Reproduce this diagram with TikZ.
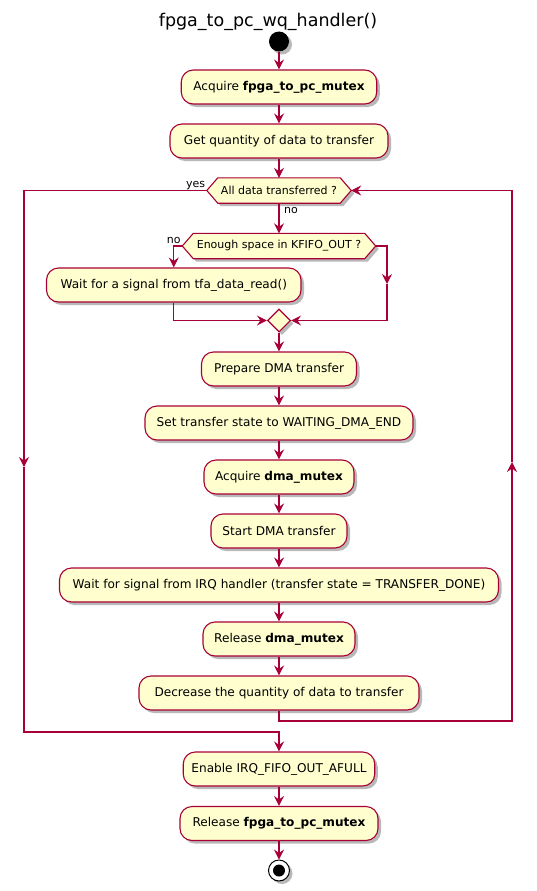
\documentclass[tikz,border=0pt]{standalone}
\usepackage{fontspec}
\setmainfont{DejaVu Sans}
\usetikzlibrary{arrows.meta,shapes.geometric,shadows,backgrounds}
\definecolor{pborder}{HTML}{A80036}
\definecolor{pfill}{HTML}{FEFECE}
\tikzset{
  shad/.style={drop shadow={shadow xshift=3pt,shadow yshift=-3pt,opacity=0.28,fill=black}},
  act/.style={rectangle, rounded corners=12pt, draw=pborder, fill=pfill, line width=1.1pt,
    minimum height=34pt, inner sep=0pt, font=\fontsize{12.1}{15}\selectfont, shad},
  hexbox/.style={rectangle, inner sep=0pt, minimum height=25pt, font=\fontsize{11}{13}\selectfont},
  hexdraw/.style={draw=pborder, fill=pfill, line width=1.1pt, line join=miter, shad},
  mergebox/.style={diamond, aspect=1, minimum size=23pt, inner sep=0pt, draw=pborder, fill=pfill, line width=1.1pt, shad},
  flow/.style={draw=pborder, line width=1.1pt, -{Stealth[length=10pt,width=10pt,inset=3.5pt]}},
  lbl/.style={font=\fontsize{11}{13}\selectfont, inner sep=0pt},
}
\begin{document}
\begin{tikzpicture}[x=1pt,y=-1pt]
\useasboundingbox (0,0) rectangle (536,891);

\node[font=\fontsize{17.5}{20}\selectfont, inner sep=0pt] (title) at (268,21.5) {fpga\_to\_pc\_wq\_handler()};
\node[circle, fill=black, minimum size=20pt, inner sep=0pt, shad] (startc) at (279,41.5) {};

\node[act, minimum width=195.5pt] (b1) at (279,87) {Acquire \textbf{fpga\_to\_pc\_mutex}};
\node[act, minimum width=218pt] (b2) at (279,141) {Get quantity of data to transfer};
\node[hexbox, minimum width=144pt] (h1) at (279,190.5) {All data transferred ?};
\node[hexbox, minimum width=193pt] (h2) at (279,246) {Enough space in KFIFO\_OUT ?};
\node[act, minimum width=254.5pt] (wait) at (173.75,285) {Wait for a signal from tfa\_data\_read()};
\node[mergebox] (merge) at (279,320.5) {};
\node[act, minimum width=155pt] (prep) at (279,369) {Prepare DMA transfer};
\node[act, minimum width=268pt] (set) at (279,423) {Set transfer state to WAITING\_DMA\_END};
\node[act, minimum width=150pt] (acq) at (279,477) {Acquire \textbf{dma\_mutex}};
\node[act, minimum width=136pt] (startdma) at (279,531) {Start DMA transfer};
\node[act, minimum width=439pt] (wirq) at (279,585) {Wait for signal from IRQ handler (transfer state = TRANSFER\_DONE)};
\node[act, minimum width=152pt] (rel) at (279,639) {Release \textbf{dma\_mutex}};
\node[act, minimum width=280pt] (dec) at (279,693) {Decrease the quantity of data to transfer};
\node[act, minimum width=191.5pt] (en) at (279,769) {Enable IRQ\_FIFO\_OUT\_AFULL};
\node[act, minimum width=198pt] (relm) at (279,823.5) {Release \textbf{fpga\_to\_pc\_mutex}};
\node[circle, draw=black, fill=white, line width=1pt, minimum size=21pt, inner sep=0pt, shad] (endc) at (279,870.5) {};
\node[circle, fill=black, minimum size=12pt, inner sep=0pt] (endin) at (endc.center) {};

\begin{pgfonlayer}{background}
\draw[hexdraw] (h1.west) -- ([xshift=11pt]h1.north west) -- ([xshift=-11pt]h1.north east) -- (h1.east)
  -- ([xshift=-11pt]h1.south east) -- ([xshift=11pt]h1.south west) -- cycle;
\draw[hexdraw] (h2.west) -- ([xshift=11pt]h2.north west) -- ([xshift=-11pt]h2.north east) -- (h2.east)
  -- ([xshift=-11pt]h2.south east) -- ([xshift=11pt]h2.south west) -- cycle;
\end{pgfonlayer}

\coordinate (lc1) at (24,190.5);
\coordinate (lm) at (24,467);
\coordinate (lc2) at (24,732);
\coordinate (rc1) at (512,721);
\coordinate (rm) at (512,462);
\coordinate (rc2) at (512,190.5);
\coordinate (r2m) at (387,284);

\draw[flow] (startc) -- (b1);
\draw[flow] (b1) -- (b2);
\draw[flow] (b2) -- (h1);
\draw[flow] (h1) -- (h2);
\node[lbl, anchor=north west] (lno1) at ([xshift=5pt,yshift=-4pt]h1.south) {no};
\node[lbl, anchor=base east] (lyes) at ([xshift=-1.5pt,yshift=3pt]h1.west) {yes};
\node[lbl, anchor=base east] (lno2) at ([xshift=-1.5pt,yshift=2.5pt]h2.west) {no};

\draw[flow] (h1.west) -- (lc1) -- (lm);
\draw[flow] (lm) -- (lc2) -| (en.north);

\draw[flow] (dec.south) |- (rc1) -- (rm);
\draw[flow] (rm) -- (rc2) -- (h1.east);

\draw[flow] (h2.west) -| (wait.north);
\draw[flow] (h2.east) -| (r2m);
\draw[flow] (r2m) |- (merge.east);
\draw[flow] (wait.south) |- (merge.west);

\draw[flow] (merge) -- (prep);
\draw[flow] (prep) -- (set);
\draw[flow] (set) -- (acq);
\draw[flow] (acq) -- (startdma);
\draw[flow] (startdma) -- (wirq);
\draw[flow] (wirq) -- (rel);
\draw[flow] (rel) -- (dec);
\draw[flow] (en) -- (relm);
\draw[flow] (relm) -- (endc);
\end{tikzpicture}
\end{document}
